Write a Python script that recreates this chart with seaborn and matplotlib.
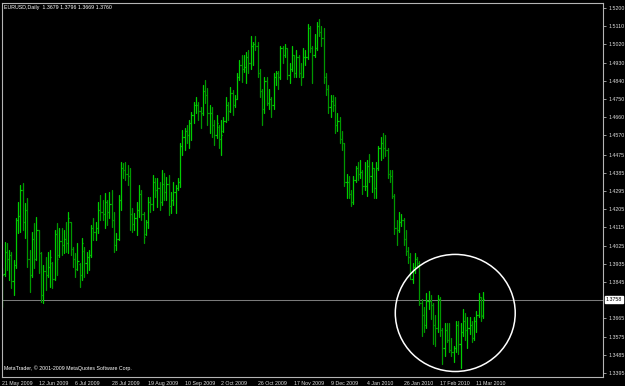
import matplotlib
matplotlib.use("Agg")
import matplotlib.pyplot as plt
import seaborn as sns
import pandas as pd
import numpy as np
from matplotlib.patches import Ellipse
from matplotlib.transforms import blended_transform_factory

# ---------------- data (EURUSD daily, 21 May 2009 - 16 Mar 2010) ----------------
opens = [
    1.3760, 1.3885, 1.3995, 1.3960, 1.3980, 1.3850, 1.3930, 1.4150, 1.4170, 1.4300,
    1.4140, 1.4200, 1.3960, 1.3880, 1.4060, 1.3960, 1.4100, 1.3990, 1.3780, 1.3900,
    1.3880, 1.3920, 1.3940, 1.3860, 1.4080, 1.3980, 1.4050, 1.4030, 1.4060, 1.4040,
    1.4140, 1.4010, 1.3960, 1.3910, 1.3935, 1.3880, 1.4000, 1.3940, 1.3970, 1.3980,
    1.4110, 1.4090, 1.4110, 1.4200, 1.4190, 1.4180, 1.4240, 1.4190, 1.4230, 1.4150,
    1.4030, 1.4060, 1.4250, 1.4410, 1.4400, 1.4380, 1.4370, 1.4180, 1.4130, 1.4160,
    1.4200, 1.4280, 1.4180, 1.4080, 1.4140, 1.4240, 1.4230, 1.4340, 1.4300, 1.4310,
    1.4240, 1.4330, 1.4290, 1.4330, 1.4220, 1.4250, 1.4290, 1.4310, 1.4340, 1.4520,
    1.4560, 1.4590, 1.4570, 1.4630, 1.4670, 1.4720, 1.4720, 1.4690, 1.4680, 1.4790,
    1.4770, 1.4680, 1.4680, 1.4620, 1.4570, 1.4610, 1.4550, 1.4590, 1.4640, 1.4720,
    1.4690, 1.4780, 1.4720, 1.4750, 1.4860, 1.4920, 1.4900, 1.4910, 1.4960,
    1.4930, 1.5010, 1.5020, 1.5010, 1.4880, 1.4790, 1.4700, 1.4840, 1.4730, 1.4750,
    1.4720, 1.4860, 1.4880, 1.4860, 1.5000, 1.4970, 1.5000, 1.4870, 1.4900, 1.4970,
    1.4880, 1.4960, 1.4880, 1.4860, 1.4960, 1.4960, 1.5100, 1.5000, 1.4970, 1.5000,
    1.5110, 1.5080, 1.5050, 1.4860, 1.4800, 1.4710, 1.4740, 1.4720, 1.4620, 1.4640,
    1.4550, 1.4530, 1.4340, 1.4340, 1.4280, 1.4240, 1.4350, 1.4410, 1.4380, 1.4390,
    1.4320, 1.4320, 1.4420, 1.4370, 1.4410, 1.4310, 1.4410, 1.4510, 1.4530, 1.4510,
    1.4500, 1.4380, 1.4370, 1.4270, 1.4110, 1.4100, 1.4140, 1.4150, 1.4060, 1.4000,
    1.3970, 1.3860, 1.3920, 1.3960, 1.3940, 1.3740, 1.3680, 1.3630, 1.3750, 1.3750,
    1.3730, 1.3630, 1.3620, 1.3760, 1.3610, 1.3520, 1.3610, 1.3560, 1.3510, 1.3500,
    1.3520, 1.3630, 1.3540, 1.3600, 1.3650, 1.3610, 1.3620, 1.3630, 1.3570, 1.3650,
    1.3680, 1.3770, 1.3679,
]
highs = [
    1.3914, 1.4043, 1.4038, 1.4003, 1.3993, 1.3954, 1.4162, 1.4241, 1.4325, 1.4335,
    1.4236, 1.4260, 1.4003, 1.4092, 1.4137, 1.4167, 1.4102, 1.3993, 1.3929, 1.3969,
    1.3993, 1.4003, 1.3944, 1.4102, 1.4137, 1.4112, 1.4112, 1.4102, 1.4142, 1.4191,
    1.4142, 1.4018, 1.3989, 1.4038, 1.3939, 1.4063, 1.4018, 1.3993, 1.4003, 1.4127,
    1.4162, 1.4142, 1.4241, 1.4275, 1.4251, 1.4285, 1.4251, 1.4290, 1.4300, 1.4191,
    1.4087, 1.4275, 1.4438, 1.4433, 1.4438, 1.4423, 1.4409, 1.4211, 1.4186, 1.4241,
    1.4325, 1.4300, 1.4191, 1.4152, 1.4265, 1.4265, 1.4374, 1.4359, 1.4359, 1.4339,
    1.4399, 1.4384, 1.4364, 1.4374, 1.4290, 1.4339, 1.4325, 1.4359, 1.4532, 1.4597,
    1.4607, 1.4621, 1.4646, 1.4686, 1.4735, 1.4760, 1.4735, 1.4710, 1.4819, 1.4844,
    1.4804, 1.4720, 1.4710, 1.4646, 1.4671, 1.4621, 1.4646, 1.4661, 1.4760, 1.4735,
    1.4809, 1.4794, 1.4770, 1.4879, 1.4943, 1.4968, 1.4968, 1.4982, 1.4992,
    1.5060, 1.5030, 1.5060, 1.5030, 1.4900, 1.4800, 1.4860, 1.4860, 1.4800, 1.4760,
    1.4880, 1.4890, 1.4890, 1.5010, 1.5010, 1.5020, 1.5000, 1.4930, 1.5010, 1.4970,
    1.4990, 1.4970, 1.4930, 1.5000, 1.4990, 1.5120, 1.5110, 1.5010, 1.5070, 1.5130,
    1.5145, 1.5110, 1.5100, 1.4880, 1.4820, 1.4770, 1.4770, 1.4760, 1.4680, 1.4660,
    1.4590, 1.4530, 1.4380, 1.4370, 1.4300, 1.4370, 1.4420, 1.4440, 1.4450, 1.4400,
    1.4440, 1.4450, 1.4480, 1.4440, 1.4410, 1.4440, 1.4520, 1.4560, 1.4580, 1.4570,
    1.4510, 1.4400, 1.4400, 1.4280, 1.4150, 1.4190, 1.4180, 1.4160, 1.4100, 1.4020,
    1.3990, 1.3940, 1.3990, 1.3970, 1.3950, 1.3760, 1.3720, 1.3790, 1.3800, 1.3780,
    1.3740, 1.3680, 1.3780, 1.3770, 1.3620, 1.3640, 1.3640, 1.3640, 1.3570, 1.3530,
    1.3650, 1.3650, 1.3640, 1.3710, 1.3690, 1.3670, 1.3670, 1.3650, 1.3670, 1.3700,
    1.3790, 1.3770, 1.3796,
]
lows = [
    1.3721, 1.3875, 1.3904, 1.3855, 1.3815, 1.3781, 1.3914, 1.4087, 1.4092, 1.4102,
    1.4063, 1.3919, 1.3796, 1.3870, 1.3914, 1.3954, 1.3890, 1.3746, 1.3741, 1.3806,
    1.3870, 1.3820, 1.3815, 1.3855, 1.3880, 1.3969, 1.3979, 1.3989, 1.3993, 1.3989,
    1.3979, 1.3919, 1.3870, 1.3904, 1.3820, 1.3855, 1.3870, 1.3890, 1.3904, 1.3969,
    1.4053, 1.4053, 1.4087, 1.4152, 1.4152, 1.4112, 1.4127, 1.4162, 1.4117, 1.3993,
    1.4003, 1.4055, 1.4201, 1.4359, 1.4349, 1.4325, 1.4102, 1.4092, 1.4102, 1.4077,
    1.4167, 1.4152, 1.4038, 1.4077, 1.4112, 1.4191, 1.4201, 1.4265, 1.4216, 1.4201,
    1.4226, 1.4251, 1.4251, 1.4176, 1.4186, 1.4226, 1.4186, 1.4300, 1.4315, 1.4473,
    1.4498, 1.4532, 1.4508, 1.4547, 1.4631, 1.4681, 1.4646, 1.4607, 1.4671, 1.4730,
    1.4621, 1.4582, 1.4562, 1.4522, 1.4557, 1.4508, 1.4473, 1.4587, 1.4636, 1.4646,
    1.4686, 1.4671, 1.4710, 1.4750, 1.4844, 1.4834, 1.4884, 1.4829, 1.4879,
    1.4900, 1.4920, 1.4990, 1.4860, 1.4760, 1.4620, 1.4680, 1.4720, 1.4700, 1.4660,
    1.4700, 1.4820, 1.4800, 1.4850, 1.4930, 1.4960, 1.4850, 1.4830, 1.4890, 1.4860,
    1.4860, 1.4860, 1.4820, 1.4860, 1.4920, 1.4950, 1.4980, 1.4830, 1.4960, 1.4990,
    1.5060, 1.5010, 1.4830, 1.4770, 1.4680, 1.4660, 1.4690, 1.4580, 1.4590, 1.4530,
    1.4500, 1.4320, 1.4260, 1.4260, 1.4220, 1.4230, 1.4340, 1.4350, 1.4360, 1.4280,
    1.4300, 1.4270, 1.4340, 1.4290, 1.4260, 1.4260, 1.4400, 1.4450, 1.4460, 1.4470,
    1.4360, 1.4340, 1.4260, 1.4080, 1.4030, 1.4090, 1.4120, 1.4030, 1.3980, 1.3940,
    1.3860, 1.3840, 1.3890, 1.3920, 1.3730, 1.3580, 1.3600, 1.3620, 1.3710, 1.3660,
    1.3540, 1.3530, 1.3600, 1.3580, 1.3440, 1.3480, 1.3550, 1.3500, 1.3480, 1.3450,
    1.3500, 1.3490, 1.3420, 1.3580, 1.3560, 1.3520, 1.3590, 1.3550, 1.3560, 1.3600,
    1.3670, 1.3650, 1.3669,
]
closes = [
    1.3880, 1.3995, 1.3960, 1.3980, 1.3850, 1.3930, 1.4150, 1.4170, 1.4300, 1.4140,
    1.4200, 1.3960, 1.3880, 1.4060, 1.3960, 1.4100, 1.3990, 1.3780, 1.3900, 1.3880,
    1.3920, 1.3970, 1.3860, 1.4080, 1.3960, 1.4050, 1.4030, 1.4060, 1.4040, 1.4160,
    1.4010, 1.3960, 1.3910, 1.3950, 1.3880, 1.4040, 1.3940, 1.3970, 1.3980, 1.4110,
    1.4090, 1.4110, 1.4200, 1.4190, 1.4180, 1.4240, 1.4190, 1.4230, 1.4150, 1.4030,
    1.4060, 1.4250, 1.4410, 1.4400, 1.4380, 1.4370, 1.4180, 1.4130, 1.4160, 1.4200,
    1.4280, 1.4180, 1.4070, 1.4140, 1.4240, 1.4230, 1.4340, 1.4300, 1.4310, 1.4240,
    1.4330, 1.4290, 1.4330, 1.4220, 1.4250, 1.4290, 1.4310, 1.4340, 1.4520, 1.4560,
    1.4590, 1.4570, 1.4630, 1.4670, 1.4720, 1.4720, 1.4690, 1.4680, 1.4790, 1.4770,
    1.4680, 1.4680, 1.4620, 1.4570, 1.4630, 1.4550, 1.4570, 1.4640, 1.4720, 1.4690,
    1.4780, 1.4720, 1.4750, 1.4860, 1.4920, 1.4900, 1.4910, 1.4960, 1.4930,
    1.5010, 1.5020, 1.5010, 1.4880, 1.4790, 1.4700, 1.4840, 1.4730, 1.4750, 1.4720,
    1.4860, 1.4880, 1.4860, 1.5000, 1.4970, 1.5000, 1.4870, 1.4900, 1.4970, 1.4880,
    1.4960, 1.4880, 1.4860, 1.4960, 1.4960, 1.5100, 1.5000, 1.4970, 1.5000, 1.5110,
    1.5080, 1.5050, 1.4860, 1.4800, 1.4710, 1.4740, 1.4720, 1.4620, 1.4640, 1.4550,
    1.4530, 1.4340, 1.4340, 1.4280, 1.4240, 1.4350, 1.4410, 1.4380, 1.4390, 1.4320,
    1.4320, 1.4420, 1.4370, 1.4410, 1.4310, 1.4410, 1.4510, 1.4530, 1.4510, 1.4500,
    1.4380, 1.4370, 1.4270, 1.4110, 1.4100, 1.4140, 1.4150, 1.4060, 1.4000, 1.3970,
    1.3860, 1.3920, 1.3960, 1.3940, 1.3740, 1.3680, 1.3630, 1.3750, 1.3750, 1.3730,
    1.3630, 1.3620, 1.3760, 1.3610, 1.3520, 1.3610, 1.3560, 1.3510, 1.3500, 1.3520,
    1.3630, 1.3540, 1.3600, 1.3650, 1.3610, 1.3620, 1.3630, 1.3570, 1.3650, 1.3680,
    1.3770, 1.3680, 1.3760,
]
date_tick_bars = [0, 16, 32, 48, 64, 80, 96, 112, 128, 144, 160, 176, 192, 208]
date_tick_labels = ["21 May 2009", "12 Jun 2009", "6 Jul 2009", "28 Jul 2009",
                    "19 Aug 2009", "10 Sep 2009", "2 Oct 2009", "26 Oct 2009",
                    "17 Nov 2009", "9 Dec 2009", "4 Jan 2010", "26 Jan 2010",
                    "17 Feb 2010", "11 Mar 2010"]
price_ticks = [1.5200, 1.5110, 1.5020, 1.4930, 1.4840, 1.4750, 1.4660, 1.4570,
               1.4475, 1.4385, 1.4295, 1.4205, 1.4115, 1.4025, 1.3935, 1.3845,
               1.3665, 1.3575, 1.3485, 1.3395]
price_tick_labels = ["%.4f" % v for v in price_ticks]
last_price = 1.3758
header = "EURUSD,Daily  1.3679 1.3796 1.3669 1.3760"
footer = "MetaTrader, \u00a9 2001-2009 MetaQuotes Software Corp."

# ---------------- style ----------------
sns.set_style("dark", {"axes.facecolor": "black", "figure.facecolor": "black",
                       "axes.edgecolor": "#b4b4b4", "grid.color": "black"})
plt.rcParams['font.family'] = ['Liberation Sans', 'DejaVu Sans']
FS = 3.8

W, H = 625, 386
fig = plt.figure(figsize=(W / 100, H / 100), dpi=100, facecolor="black")
ax = fig.add_axes([2 / W, 9 / H, 601 / W, 374 / H])
ax.set_facecolor("black")

n = len(closes)
idx = np.arange(n)
direction = np.where(np.array(closes) >= np.array(opens), "up", "down")

long = pd.DataFrame({
    "bar": np.concatenate([idx, idx]),
    "price": np.concatenate([lows, highs]),
    "dir": np.concatenate([direction, direction]),
})
palette = {"up": "#00cc00", "down": "#009800"}
sns.lineplot(data=long, x="bar", y="price", units="bar", estimator=None,
             hue="dir", palette=palette, legend=False, lw=0.9, ax=ax,
             sort=False, antialiased=True)

cols = [palette[d] for d in direction]
ax.hlines(opens, idx - 0.5, idx, colors=cols, lw=0.85)
ax.hlines(closes, idx, idx + 0.5, colors=cols, lw=0.85)

# current price line
ax.axhline(last_price, color="#7a7a7a", lw=0.75, zorder=1)

# highlight circle
ax.add_patch(Ellipse((198.7, 1.3692), 52.6, 0.0579, fill=False,
                     edgecolor="white", lw=1.1, zorder=5))

ax.set_xlim(-0.1, 263.5)
ax.set_ylim(1.33753, 1.52247)

# axes / ticks
for s in ax.spines.values():
    s.set_color("#b4b4b4")
    s.set_linewidth(0.8)
ax.yaxis.tick_right()
ax.set_yticks(price_ticks)
ax.set_yticklabels(price_tick_labels)
ax.set_xticks(date_tick_bars)
ax.set_xticklabels(date_tick_labels, ha="left")
ax.tick_params(axis="y", direction="out", length=2.5, width=0.6, color="#b4b4b4",
               labelcolor="#dcdcdc", labelsize=FS, pad=1.5, right=True, left=False)
ax.tick_params(axis="x", direction="out", length=2.5, width=0.6, color="#b4b4b4",
               labelcolor="#dcdcdc", labelsize=FS, pad=0.3)
ax.set_xlabel("")
ax.set_ylabel("")
ax.grid(False)

# current price box
tr = blended_transform_factory(ax.transAxes, ax.transData)
ax.text(1.005, last_price, "%.4f" % last_price, transform=tr, ha="left", va="center",
        fontsize=FS, color="black",
        bbox=dict(boxstyle="square,pad=0.2", facecolor="white", edgecolor="white"))

fig.text(4 / W, 1 - 8 / H, header, color="white", fontsize=FS, va="center", ha="left")
fig.text(4 / W, 1 - 368 / H, footer, color="white", fontsize=FS, va="center", ha="left")

fig.savefig("out.png", dpi=100, facecolor="black")
